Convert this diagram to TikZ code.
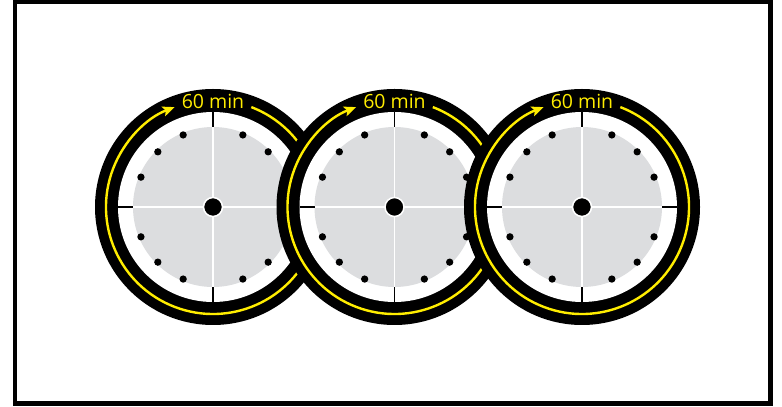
\documentclass[tikz,border=0pt]{standalone}
\usepackage{fontspec}
\setmainfont{Open Sans}
\usetikzlibrary{arrows.meta}
\definecolor{clockyellow}{RGB}{255,237,0}
\definecolor{facegray}{RGB}{220,221,223}

\begin{document}
\begin{tikzpicture}[
    x=1pt, y=1pt,
    frame/.style={draw=black, line width=4.5pt},
    face/.style={fill=facegray},
    tickline/.style={draw=black, line width=1.8pt},
    crossline/.style={draw=white, line width=1.4pt},
    hub/.style={circle, fill=black, draw=white, line width=1.5pt, minimum size=19pt, inner sep=0pt},
    hourdot/.style={circle, fill=black, minimum size=7.3pt, inner sep=0pt},
    timer/.style={draw=clockyellow, line width=2.4pt, -{Stealth[length=12pt, width=10pt, inset=2.5pt]}},
    minutes/.style={text=clockyellow, font=\fontsize{19.5}{19.5}\selectfont, inner sep=0pt}
]
\useasboundingbox (0,0) rectangle (782,407);

% Frame
\draw[frame] (15,3.5) rectangle (770.5,405);

% Clocks, each one drawn over the one before
\foreach \i/\x in {1/213, 2/394.5, 3/582} {
  \coordinate (clock\i) at (\x,200);
  \fill[black] (clock\i) circle (118);
  \fill[white] (clock\i) circle (95);
  \fill[face] (clock\i) circle (80);
  \foreach \a in {0,90,180,270}
    \draw[tickline] (clock\i) ++(\a:80) -- ++(\a:15);
  \draw[crossline] (clock\i) ++(-80,0) -- ++(160,0);
  \draw[crossline] (clock\i) ++(0,-80) -- ++(0,160);
  \foreach \k in {1,2,3,5,6,7,9,10,11,13,14,15}
    \path (clock\i) ++(\k*22.5:78) node[hourdot] (dot\i-\k) {};
  \node[hub] (hub\i) at (clock\i) {};
  % 60 min arc
  \draw[timer] (clock\i) ++(69:107) arc[start angle=69, end angle=-249, radius=107];
  \node[minutes, anchor=base] (min\i) at (\x,298.7) {60 min};
}

\end{tikzpicture}
\end{document}
